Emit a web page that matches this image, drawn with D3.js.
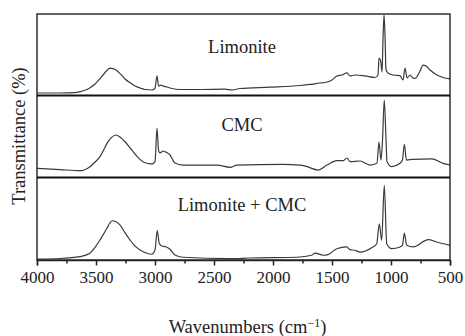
<!DOCTYPE html>
<html><head><meta charset="utf-8">
<script src="https://cdn.jsdelivr.net/npm/d3@7"></script>
<style>body{margin:0;background:#fff}</style>
</head><body><svg id="c" width="465" height="336"></svg>
<script>
// Wavenumbers (cm-1) and relative transmittance signal (0-100 within each panel)
const limoniteWn = [4000,3805,3678,3600,3550,3508,3470,3441,3410,3381,3355,3331,3290,3254,3210,3169,3120,3085,3025,3000,2983,2970,2949,2932,2898,2856,2788,2619,2407,2347,2280,2025,1771,1686,1602,1559,1500,1458,1415,1373,1347,1305,1220,1136,1110,1102,1089,1076,1068,1059,1051,1042,1025,983,924,898,881,864,839,814,797,754,729,703,669,610,559,500];
const limoniteT  = [2.5,2.5,3,5.5,9,13.6,19.5,24.7,30,33.3,32.5,30.9,25.5,19.8,15,11,8.3,6.8,6.2,8.6,23.5,11,12.3,11,9.9,8,6.8,6.8,7.2,6.2,8,9.6,11.7,13,14.8,15.4,18.5,23.5,24.7,27.2,23.5,24.7,23.5,21.6,24.7,45.7,43,28.4,68,98.8,74,30.9,27.2,24.7,24,18.5,33.3,21,24.7,21,20.4,29.6,37,35.8,30.9,24.7,21.6,19.8];

const cmcWn = [4000,3805,3636,3551,3510,3466,3435,3407,3370,3331,3295,3254,3220,3186,3145,3102,3060,3025,3000,2983,2970,2958,2932,2898,2873,2831,2763,2475,2364,2305,1915,1771,1712,1619,1542,1458,1407,1373,1347,1263,1178,1119,1102,1085,1072,1057,1042,1034,992,924,903,887,869,814,655,559,500];
const cmcT  = [10.6,9.1,7.7,12.6,18,24.8,33,41,48,51.2,48.5,43,37,30.9,24,18.7,16.5,15.9,18.7,59.4,32.9,29.3,31.7,29.6,26.8,17,14.6,14.6,11.8,14.6,15.5,14.6,12.6,8.5,14.6,19.9,19.9,23.2,18.7,19.5,14.6,16.7,42.7,20.7,45,93.9,45,18.7,12.6,16.7,20.7,39.9,20.7,21.6,22,16.7,14.6];

const mixWn = [4000,3805,3636,3551,3510,3466,3435,3407,3385,3362,3330,3297,3255,3212,3170,3127,3075,3028,3000,2981,2964,2943,2907,2873,2831,2763,2364,2195,1797,1672,1644,1574,1534,1460,1375,1347,1305,1263,1164,1121,1099,1079,1057,1036,994,924,903,887,867,811,684,613,500];
const mixT  = [1.2,1.8,4,8.1,15,24.1,31.5,38.2,44,47.3,46,42.2,33,24.1,17,12,8.5,6.9,12,35.3,20.1,16.9,16,12.9,6,3.3,1.6,2.4,3.3,5.7,8.4,5.7,6.4,13.6,15.7,12.4,11.7,9.6,14.8,19.6,43.7,23.7,90,19.6,13.6,15.7,17.5,32.5,17.7,15.7,24.5,21.7,17.7];

const seriesLabels = ["Limonite", "CMC", "Limonite + CMC"];
const majorTicks = [4000,3500,3000,2500,2000,1500,1000,500];
const minorTicks = [3750,3250,2750,2250,1750,1250,750];
const xTitle = "Wavenumbers (cm";
const yTitle = "Transmittance (%)";

const svg = d3.select("#c");
const L = 37, R = 450, T = 14, B = 260;
const panelTop = [14, 95, 177], panelBot = [95, 177, 260];
const labelY = [52.5, 130.7, 211];
const font = "'Liberation Serif', 'Times New Roman', serif";
const ink = "#222";

const x = d3.scaleLinear().domain([4000, 500]).range([L, R]);

const series = [
  {wn: limoniteWn, t: limoniteT},
  {wn: cmcWn, t: cmcT},
  {wn: mixWn, t: mixT}
];

series.forEach((s, i) => {
  const y = d3.scaleLinear().domain([0, 100]).range([panelBot[i], panelTop[i]]);
  const pts = s.wn.map((w, k) => [w, s.t[k]]);
  svg.append("path")
    .datum(pts)
    .attr("fill", "none")
    .attr("stroke", "#3a3a3a")
    .attr("stroke-width", 1.2)
    .attr("stroke-linejoin", "round")
    .attr("d", d3.line().curve(d3.curveMonotoneX).x(d => x(d[0])).y(d => y(d[1])));
  svg.append("text")
    .attr("x", 242).attr("y", labelY[i])
    .attr("text-anchor", "middle")
    .attr("font-family", font).attr("font-size", 18.5)
    .attr("fill", ink)
    .text(seriesLabels[i]);
});

// frame
svg.append("rect").attr("x", L).attr("y", T).attr("width", R - L).attr("height", B - T)
  .attr("fill", "none").attr("stroke", ink).attr("stroke-width", 1.4);
[95.5, 177.5].forEach(yy => {
  svg.append("line").attr("x1", L).attr("x2", R).attr("y1", yy).attr("y2", yy)
    .attr("stroke", "#111").attr("stroke-width", 2.2);
});

// axes
const gMaj = svg.append("g").attr("transform", `translate(0,${B})`)
  .call(d3.axisBottom(x).tickValues(majorTicks).tickSize(5.5).tickPadding(5).tickFormat(d3.format("d")));
gMaj.select(".domain").attr("stroke", ink).attr("stroke-width", 1.4);
gMaj.selectAll(".tick line").attr("stroke", ink).attr("stroke-width", 1.5);
gMaj.selectAll(".tick text").attr("font-family", font).attr("font-size", 17).attr("fill", ink);

const gMin = svg.append("g").attr("transform", `translate(0,${B})`)
  .call(d3.axisBottom(x).tickValues(minorTicks).tickSize(3.5).tickFormat(""));
gMin.select(".domain").remove();
gMin.selectAll(".tick line").attr("stroke", ink).attr("stroke-width", 1.5);

// titles
const xt = svg.append("text").attr("x", 247.5).attr("y", 333)
  .attr("text-anchor", "middle").attr("font-family", font).attr("font-size", 18.5).attr("fill", ink);
xt.append("tspan").text(xTitle);
xt.append("tspan").attr("font-size", 12).attr("dy", -6).text("\u22121");
xt.append("tspan").attr("dy", 6).text(")");

svg.append("text")
  .attr("transform", "translate(25,136) rotate(-90)")
  .attr("text-anchor", "middle").attr("font-family", font).attr("font-size", 18.5).attr("fill", ink)
  .text(yTitle);
</script>
</body></html>
